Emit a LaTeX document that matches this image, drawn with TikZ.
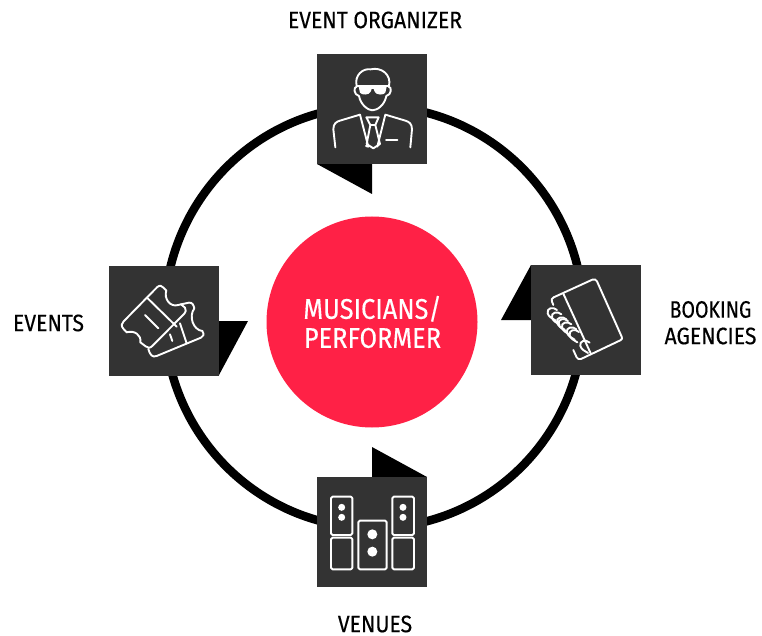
\documentclass[tikz,border=0pt]{standalone}
\usepackage{fontspec}
\setmainfont[FakeStretch=0.89,FakeBold=0.3]{Fira Sans}
\definecolor{boxgrey}{HTML}{333333}
\definecolor{hubred}{HTML}{FF2146}
\tikzset{
  tilebox/.style={fill=boxgrey,draw=none,minimum width=110pt,minimum height=110pt,inner sep=0pt,outer sep=0pt},
  flag/.style={fill=black,draw=none},
  ico/.style={draw=white,line width=1.9pt,line cap=round,line join=round,fill=none},
  lab/.style={font=\fontsize{23.8pt}{26pt}\selectfont,text=black,align=center,inner sep=0pt},
}
\begin{document}
\begin{tikzpicture}[x=1pt,y=-1pt]
\useasboundingbox (0,0) rectangle (762,636);
\fill[white] (0,0) rectangle (762,636);
\coordinate (c) at (374,317);
\draw[black,line width=8.5pt] (c) ellipse [x radius=209.5pt,y radius=211pt];
\fill[flag] (317,164) -- (372,164) -- (372,194) -- cycle;
\fill[flag] (219,321) -- (248,321) -- (219,375) -- cycle;
\fill[flag] (531,265) -- (501,320) -- (531,320) -- cycle;
\fill[flag] (372,447) -- (372,477) -- (427,477) -- cycle;
\node[tilebox] (top) at (372,109) {};
\node[tilebox] (left) at (164,321) {};
\node[tilebox] (right) at (586,320) {};
\node[tilebox] (bottom) at (372,532) {};
\node[circle,fill=hubred,minimum size=211pt,inner sep=0pt] (hub) at (372,322) {};
\node[lab,text=white,font=\fontsize{28.5pt}{29pt}\selectfont] (hubtext) at (372.5,322) {MUSICIANS/\\PERFORMER};
\node[lab] (toplab) at (375,20) {EVENT ORGANIZER};
\node[lab] (leftlab) at (48.5,323) {EVENTS};
\node[lab] (rightlabA) at (710.5,309.5) {\scalebox{0.92}[1]{BOOKING}};
\node[lab] (rightlabB) at (710.5,336) {AGENCIES};
\node[lab] (botlab) at (375,624) {VENUES};
% man
\begin{scope}[shift={(300,40)},x=0.3333pt,y=-0.3333pt]
\draw[ico] (170,138) .. controls (162,105) and (190,84) .. (212,88) .. controls (245,80) and (275,105) .. (267,138) -- cycle;
\draw[ico] (170,140) .. controls (160,140) and (161,165) .. (177,168) .. controls (182,195) and (205,211) .. (217,211) .. controls (232,211) and (254,195) .. (259,168) .. controls (275,165) and (276,140) .. (266,140);
\fill[white] (176,140) -- (260,140) -- (256,158) .. controls (252,166) and (228,166) .. (224,155) -- (221,147) -- (215,147) -- (212,155) .. controls (208,166) and (184,166) .. (180,158) -- cycle;
\draw[ico] (106,322) -- (100,268) .. controls (100,250) and (110,245) .. (120,242) -- (180,224) -- (205,320) -- (198,318);
\draw[ico] (331,322) -- (336,268) .. controls (336,250) and (326,245) .. (316,242) -- (256,224) -- (232,320);
\draw[ico] (199,232) -- (236,232) -- (226,255) -- (240,312) -- (220,325) -- (200,312) -- (211,255) -- cycle;
\draw[ico] (211,255) -- (226,255);
\draw[ico] (258,300) -- (292,300);
\end{scope}
% tickets
\begin{scope}[shift={(95,255)},x=0.3333pt,y=-0.3333pt]
\draw[ico] (187,96) .. controls (195,90) and (200,92) .. (204,97) -- (214,107) .. controls (206,130) and (225,158) .. (250,150) -- (258,148) -- (270,158) .. controls (275,165) and (272,172) .. (268,176) -- (172,273) .. controls (165,280) and (158,280) .. (152,274) -- (136,262) .. controls (140,240) and (118,225) .. (95,232) -- (84,220) .. controls (78,212) and (80,205) .. (86,199) -- cycle;
\draw[ico] (158,130) -- (245,215);
\draw[ico] (150,180) -- (190,220);
\draw[ico] (258,148) -- (282,143) .. controls (292,142) and (296,150) .. (298,160) .. controls (280,185) and (295,225) .. (322,228) .. controls (328,238) and (326,245) .. (318,248) -- (185,303) .. controls (172,308) and (165,300) .. (160,282);
\draw[ico] (255,205) -- (275,265);
\draw[ico] (225,238) -- (232,258);
\end{scope}
% notebook
\begin{scope}[shift={(495,255)},x=0.3333pt,y=-0.3333pt]
\draw[ico] (176,127) -- (292,74) .. controls (298,71) and (303,74) .. (306,79) -- (380,245) .. controls (383,250) and (381,254) .. (376,256) -- (258,312) .. controls (252,314) and (248,312) .. (245,307) -- (235,285);
\draw[ico] (176,127) .. controls (170,130) and (168,134) .. (171,140) -- (175,150);
\draw[ico] (205,116) -- (288,297);
\foreach \px/\py in {183,170,198,203,213,236,228,268}{
  \draw[ico] (\px+16,\py-5) .. controls (\px+5,\py-16) and (\px-16,\py-11) .. (\px-12,\py+5) .. controls (\px-9,\py+16) and (\px+2,\py+20) .. (\px+11,\py+26);
}
\end{scope}
% speakers
\begin{scope}[shift={(305,440)},x=0.3333pt,y=-0.3333pt,every path/.append style={rounded corners=1.5pt}]
\draw[ico] (78,170) rectangle (142,285);
\draw[ico] (78,293) rectangle (142,388);
\draw[ico] (160,242) rectangle (245,388);
\draw[ico] (262,170) rectangle (327,285);
\draw[ico] (262,293) rectangle (327,388);
\fill[white] (110,202) circle (10.5);
\fill[white] (110,232) circle (10.5);
\fill[white] (294,202) circle (10.5);
\fill[white] (294,232) circle (10.5);
\fill[white] (202,283) circle (15);
\fill[white] (202,335) circle (15);
\end{scope}
\end{tikzpicture}
\end{document}
